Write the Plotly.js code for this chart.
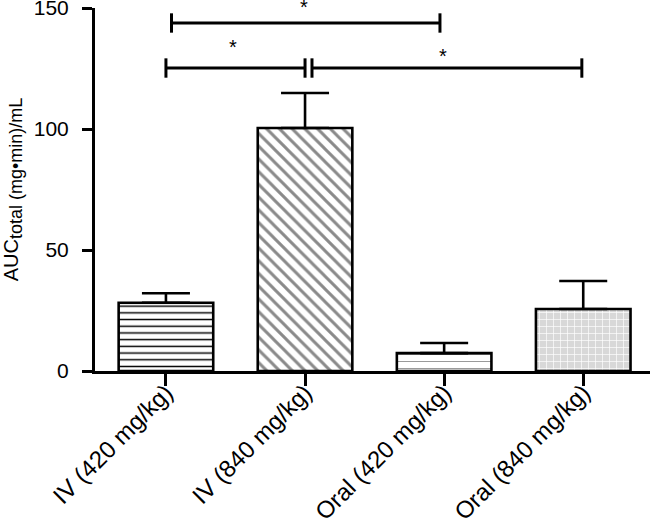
<!DOCTYPE html>
<html>
<head>
<meta charset="utf-8">
<script src="https://cdn.plot.ly/plotly-3.0.1.min.js"></script>
<style>html,body{margin:0;padding:0;background:#fff;}#chart{width:655px;height:519px;}</style>
</head>
<body>
<div id="chart"></div>
<script>
// Data
const categories = ["IV (420 mg/kg)", "IV (840 mg/kg)", "Oral (420 mg/kg)", "Oral (840 mg/kg)"];
const aucMean = [28.2, 100.4, 7.4, 25.6];
const aucErrPlus = [3.9, 14.5, 4.2, 11.6];
const yTickVals = [0, 50, 100, 150];
const yRange = [0, 150];

// Significance comparisons (category index positions and bracket height in AUC units)
const sigFrom = [0.04, 0.0, 1.05];
const sigTo = [1.97, 1.0, 2.99];
const sigY = [143.8, 125.2, 125.2];
const starX = [0.99, 0.48, 1.99];
const starY = [150.6, 134, 130.3];
const sigLabel = ["*", "*", "*"];

// Styles
const patShapes = ["-", "\\", "-", "+"];
const patFg = ["#000000", "#8a8a8a", "#9a9a9a", "#ffffff"];
const patBg = ["#ffffff", "#ffffff", "#ffffff", "#d8d8d8"];
const patSize = [6.7, 9, 7, 7];
const patSolid = [0.22, 0.33, 0.15, 0.18];

const xIdx = categories.map((c, i) => i);
const FONT = "Liberation Sans, Arial, sans-serif";

const traces = categories.map((c, i) => ({
  type: "bar",
  x: [xIdx[i]],
  y: [aucMean[i]],
  width: 0.68,
  marker: {
    color: patBg[i],
    line: {color: "#000", width: 2.6},
    pattern: {
      shape: patShapes[i],
      fgcolor: patFg[i],
      bgcolor: patBg[i],
      size: patSize[i],
      solidity: patSolid[i],
      fillmode: "replace"
    }
  },
  error_y: {
    type: "data",
    symmetric: false,
    array: [aucErrPlus[i]],
    arrayminus: [0],
    color: "#000",
    thickness: 2.6,
    width: 24
  },
  hoverinfo: "none"
}));

const shapes = [];
const tickHalf = 4;
for (let i = 0; i < sigFrom.length; i++) {
  const ln = {color: "#000", width: 3};
  shapes.push({type: "line", xref: "x", yref: "y", x0: sigFrom[i], x1: sigTo[i], y0: sigY[i], y1: sigY[i], line: ln});
  shapes.push({type: "line", xref: "x", yref: "y", x0: sigFrom[i], x1: sigFrom[i], y0: sigY[i] - tickHalf, y1: sigY[i] + tickHalf, line: ln});
  shapes.push({type: "line", xref: "x", yref: "y", x0: sigTo[i], x1: sigTo[i], y0: sigY[i] - tickHalf, y1: sigY[i] + tickHalf, line: ln});
}

// stars placed in paper units converted from AUC units so the top one is not hidden
const annotations = sigLabel.map((t, i) => ({
  x: starX[i], y: (starY[i] - yRange[0]) / (yRange[1] - yRange[0]), xref: "x", yref: "paper", text: t, showarrow: false,
  font: {family: FONT, size: 20, color: "#000"},
  xanchor: "center", yanchor: "middle"
}));

const layout = {
  width: 655, height: 519,
  margin: {l: 95, r: 5, t: 8, b: 148},
  paper_bgcolor: "#fff", plot_bgcolor: "#fff",
  showlegend: false,
  barmode: "overlay",
  font: {family: FONT, color: "#000", size: 20},
  xaxis: {
    range: [-0.51, 3.48],
    tickmode: "array",
    tickvals: xIdx,
    ticktext: categories,
    tickangle: -45,
    ticks: "outside", ticklen: 12, tickwidth: 3, tickcolor: "#000",
    showline: true, linecolor: "#000", linewidth: 3,
    showgrid: false, zeroline: false,
    tickfont: {size: 24},
    ticklabelstandoff: -17,
    ticklabeloverflow: "allow",
    fixedrange: true
  },
  yaxis: {
    range: yRange,
    tickmode: "array",
    tickvals: yTickVals,
    ticks: "outside", ticklen: 10, tickwidth: 3, tickcolor: "#000",
    showline: true, linecolor: "#000", linewidth: 3,
    showgrid: false, zeroline: false,
    tickfont: {size: 21},
    ticklabelstandoff: 9,
    ticklabeloverflow: "allow",
    title: {text: "AUC<sub><span style=\"font-size:18px\">total (mg•min)/mL</span></sub>", font: {size: 20}, standoff: 11},
    fixedrange: true
  },
  shapes: shapes,
  annotations: annotations
};

Plotly.newPlot("chart", traces, layout, {displayModeBar: false, staticPlot: true});
</script>
</body>
</html>
